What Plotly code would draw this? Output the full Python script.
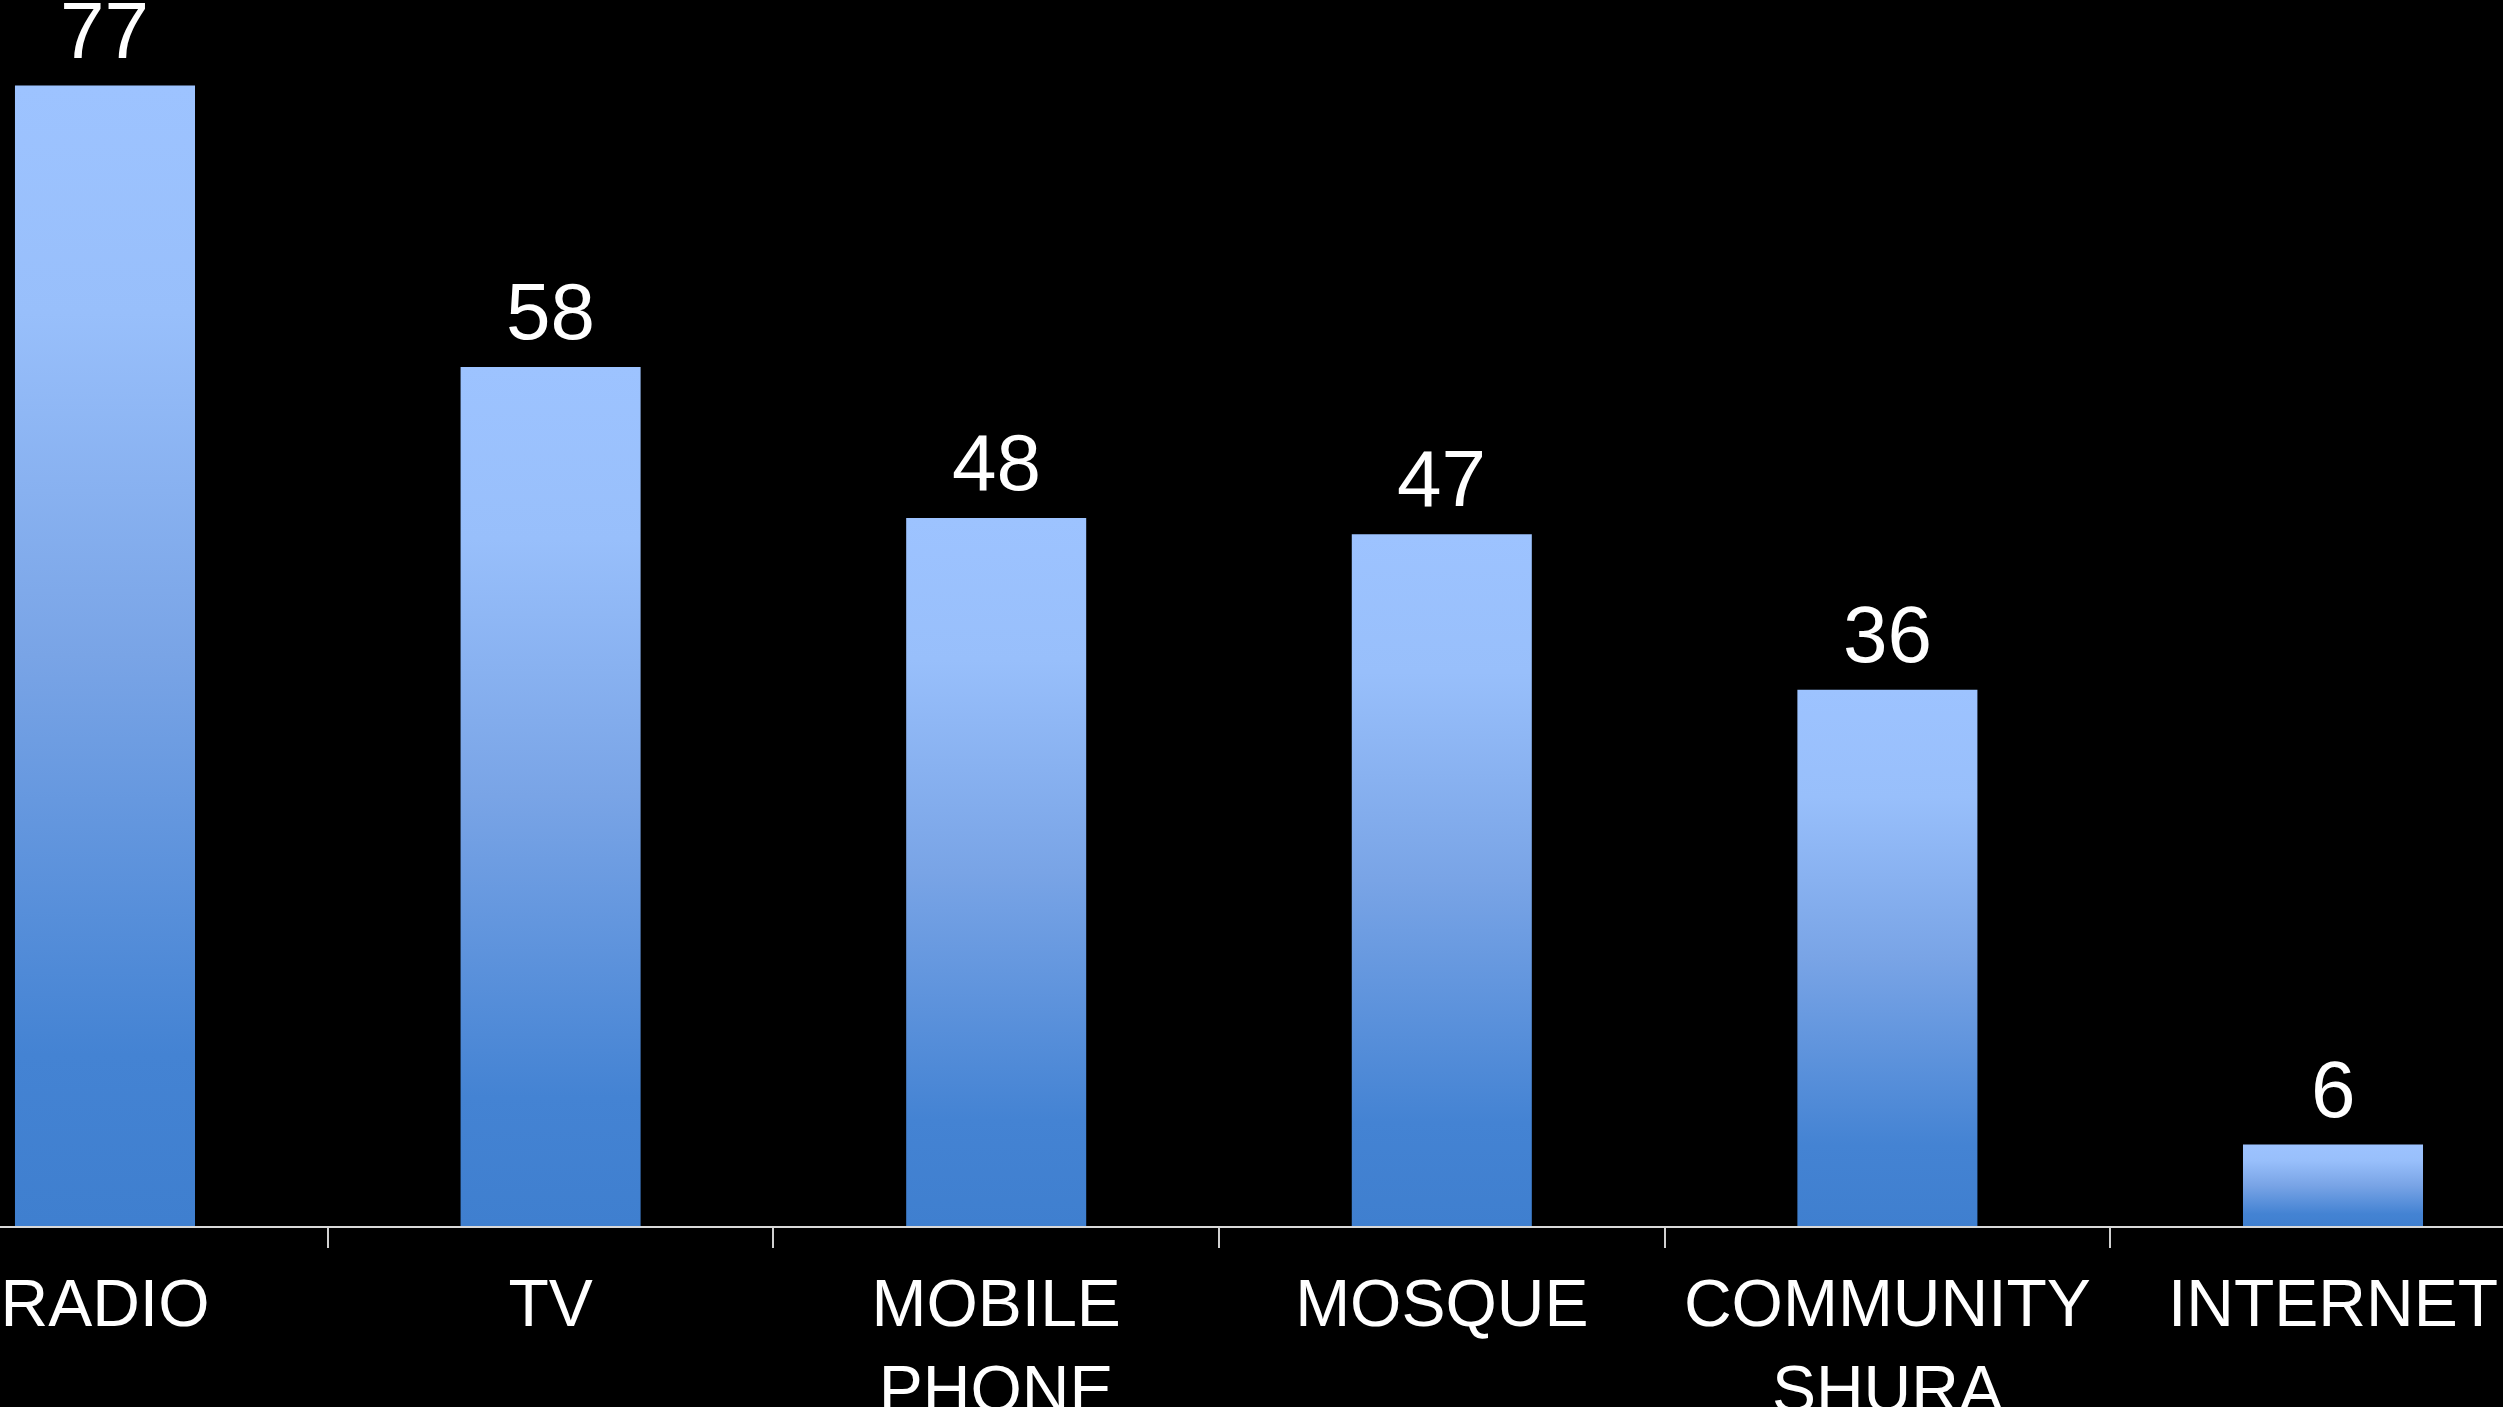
import plotly.graph_objects as go

categories = ["RADIO", "TV", "MOBILE<br>PHONE", "MOSQUE", "COMMUNITY<br>SHURA", "INTERNET"]
values = [77, 58, 47.8, 46.7, 36.2, 5.5]
value_labels = ["77", "58", "48", "47", "36", "6"]

FONT = "Liberation Sans, Arial, sans-serif"
half_w = 0.202
gradient = [
    [0.0, "#3F7FCF"],
    [0.15, "#4483D3"],
    [0.5, "#79A4E6"],
    [0.8, "#98BFFB"],
    [1.0, "#9DC3FF"],
]

fig = go.Figure()
for i, v in enumerate(values):
    fig.add_trace(go.Scatter(
        x=[i - half_w, i + half_w, i + half_w, i - half_w, i - half_w],
        y=[0, 0, v, v, 0],
        mode="lines",
        line=dict(width=0, color="rgba(0,0,0,0)"),
        fill="toself",
        fillgradient=dict(type="vertical", colorscale=gradient),
        hoverinfo="skip",
        showlegend=False,
    ))
    fig.add_annotation(
        x=i, y=v, text=value_labels[i], showarrow=False,
        yanchor="bottom", yshift=9,
        font=dict(family=FONT, size=80, color="white"),
    )

fig.update_layout(
    width=2503, height=1407,
    paper_bgcolor="black", plot_bgcolor="black",
    margin=dict(l=0, r=0, t=0, b=181, autoexpand=False),
    showlegend=False,
)
fig.update_xaxes(
    range=[-0.2356, 5.3815],
    automargin=False,
    tickmode="array",
    tickvals=list(range(len(categories))),
    ticktext=categories,
    ticks="outside", ticklen=0, tickcolor="rgba(0,0,0,0)",
    ticklabelstandoff=19,
    tickfont=dict(family=FONT, size=66, color="white"),
    showgrid=False, zeroline=False,
    showline=True, linecolor="#d9d9d9", linewidth=2,
    minor=dict(
        tickmode="array",
        tickvals=[i + 0.5 for i in range(len(categories) - 1)],
        ticks="outside", ticklen=20, tickwidth=2, tickcolor="#d0d0d0",
        showgrid=False,
    ),
)
fig.update_yaxes(
    range=[0, 82.78],
    automargin=False,
    visible=False, showgrid=False, zeroline=False,
)

fig.write_html(
    "out.html",
    config={"displayModeBar": False},
    post_script="document.body.style.margin='0';document.body.style.background='black';document.body.style.overflow='hidden';",
)
